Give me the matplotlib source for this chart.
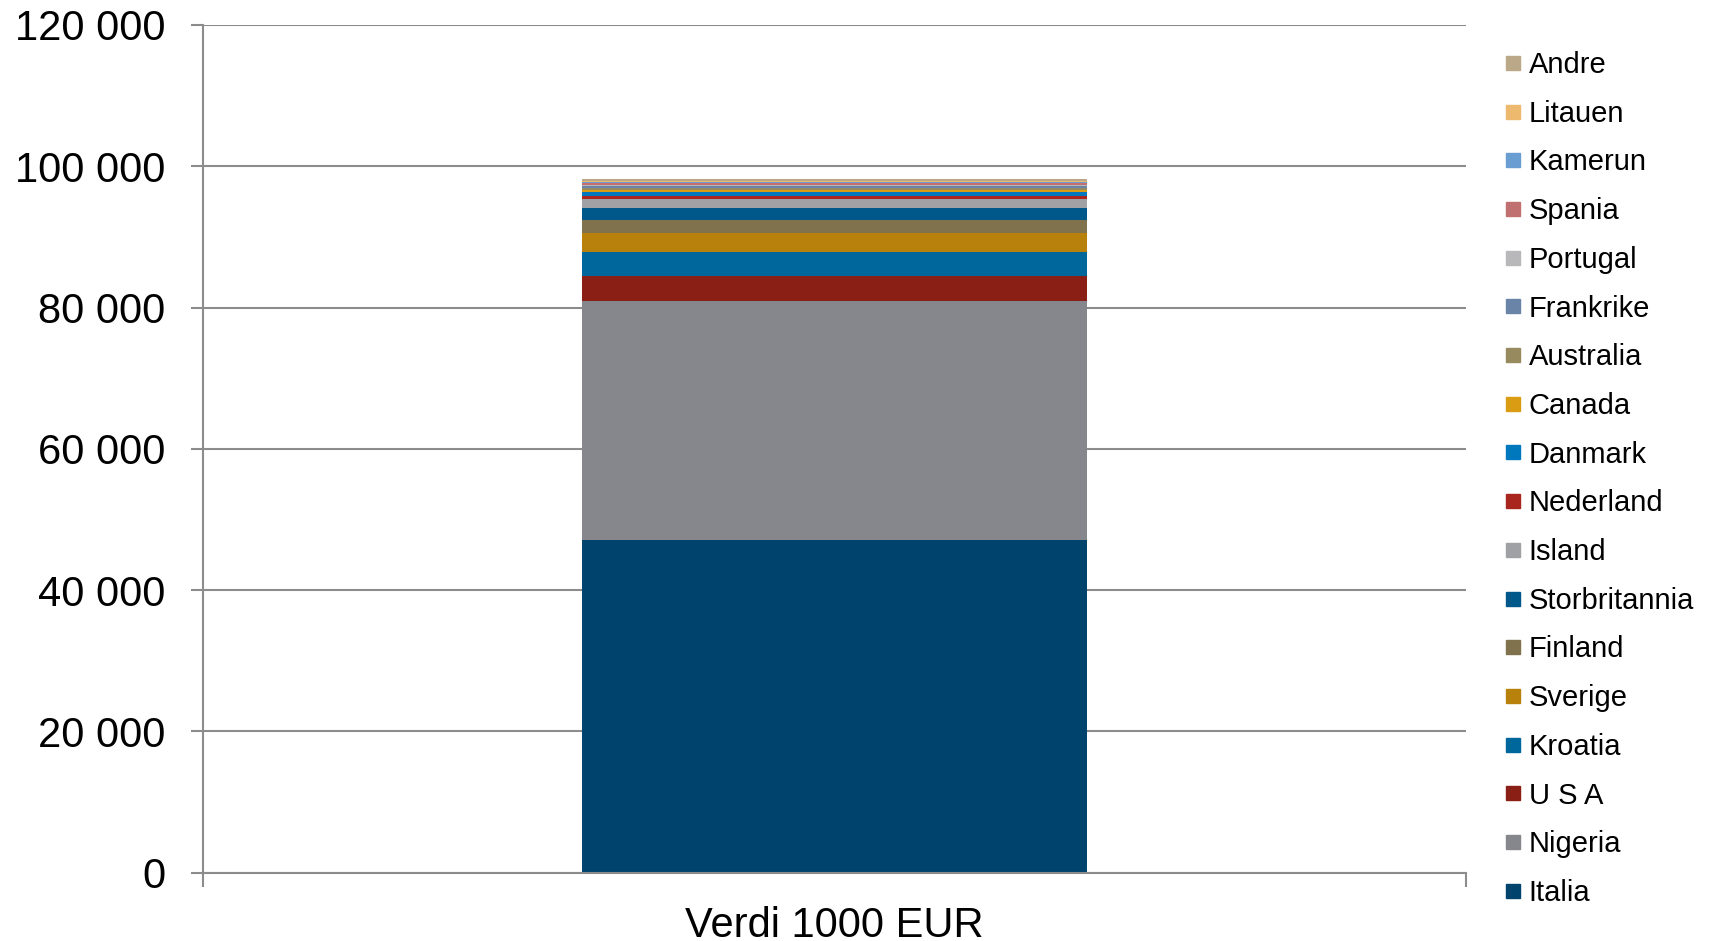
import numpy as np
import matplotlib.pyplot as plt
from matplotlib.lines import Line2D
from matplotlib.ticker import FuncFormatter

plt.rcParams['font.family'] = ['Liberation Sans', 'DejaVu Sans']

# stacking order, bottom to top
countries = ["Italia", "Nigeria", "U S A", "Kroatia", "Sverige", "Finland",
             "Storbritannia", "Island", "Nederland", "Danmark", "Canada",
             "Australia", "Frankrike", "Portugal", "Spania", "Kamerun",
             "Litauen", "Andre"]
values = [47100, 33800, 3500, 3400, 2700, 1850, 1700, 1300, 420, 660, 240,
          240, 240, 190, 280, 100, 140, 330]
colors = ["#00436C", "#85878C", "#8A1F16", "#00679D", "#B8810C", "#7F724C",
          "#00578A", "#A0A1A5", "#A9261E", "#0078BD", "#DA9C12", "#978A5F",
          "#6A84A8", "#B8B8BA", "#C07070", "#6A9ED2", "#EDB96E", "#BAA888"]
category = "Verdi 1000 EUR"

fig = plt.figure(figsize=(17.12, 9.41), dpi=100)
ax = fig.add_axes([203/1712, 1-872.7/941, (1465.5-203)/1712, (872.7-25)/941])

bottom = 0
for name, v, c in zip(countries, values, colors):
    ax.bar(0, v, width=0.8, bottom=bottom, color=c, label=name, zorder=3)
    bottom += v

grid_c = "#8C8C8C"
ax.set_xlim(-1, 1)
ax.set_ylim(0, 120000)
ax.set_yticks(np.arange(0, 120001, 20000))
ax.yaxis.set_major_formatter(FuncFormatter(lambda v, p: f"{int(v):,}".replace(",", " ")))
ax.grid(axis='y', color=grid_c, linewidth=1.5, zorder=0)
ax.set_xticks([0])
ax.set_xticklabels([category])
ax.set_xticks([-1, 1], minor=True)
ax.tick_params(axis='x', which='major', length=0, pad=24, labelsize=30)
ax.tick_params(axis='x', which='minor', length=10, width=1.5, color=grid_c, direction='out')
ax.tick_params(axis='y', length=9, width=1.5, color=grid_c, pad=18, labelsize=30)

for s in ['top', 'right']:
    ax.spines[s].set_visible(False)
ax.spines['left'].set_color(grid_c)
ax.spines['left'].set_linewidth(1.5)
ax.spines['bottom'].set_color(grid_c)
ax.spines['bottom'].set_linewidth(1.5)
ax.spines['bottom'].set_zorder(4)

handles = [Line2D([], [], marker='s', linestyle='none', markersize=9.5,
                  color=c) for c in colors]
leg = fig.legend(handles[::-1], countries[::-1], loc='upper left',
                 bbox_to_anchor=(1504/1712, 1-51/941), frameon=False,
                 fontsize=21, handlelength=0.6, handletextpad=0.25,
                 labelspacing=0.71, borderpad=0, borderaxespad=0)

fig.savefig("out.png", dpi=100)
